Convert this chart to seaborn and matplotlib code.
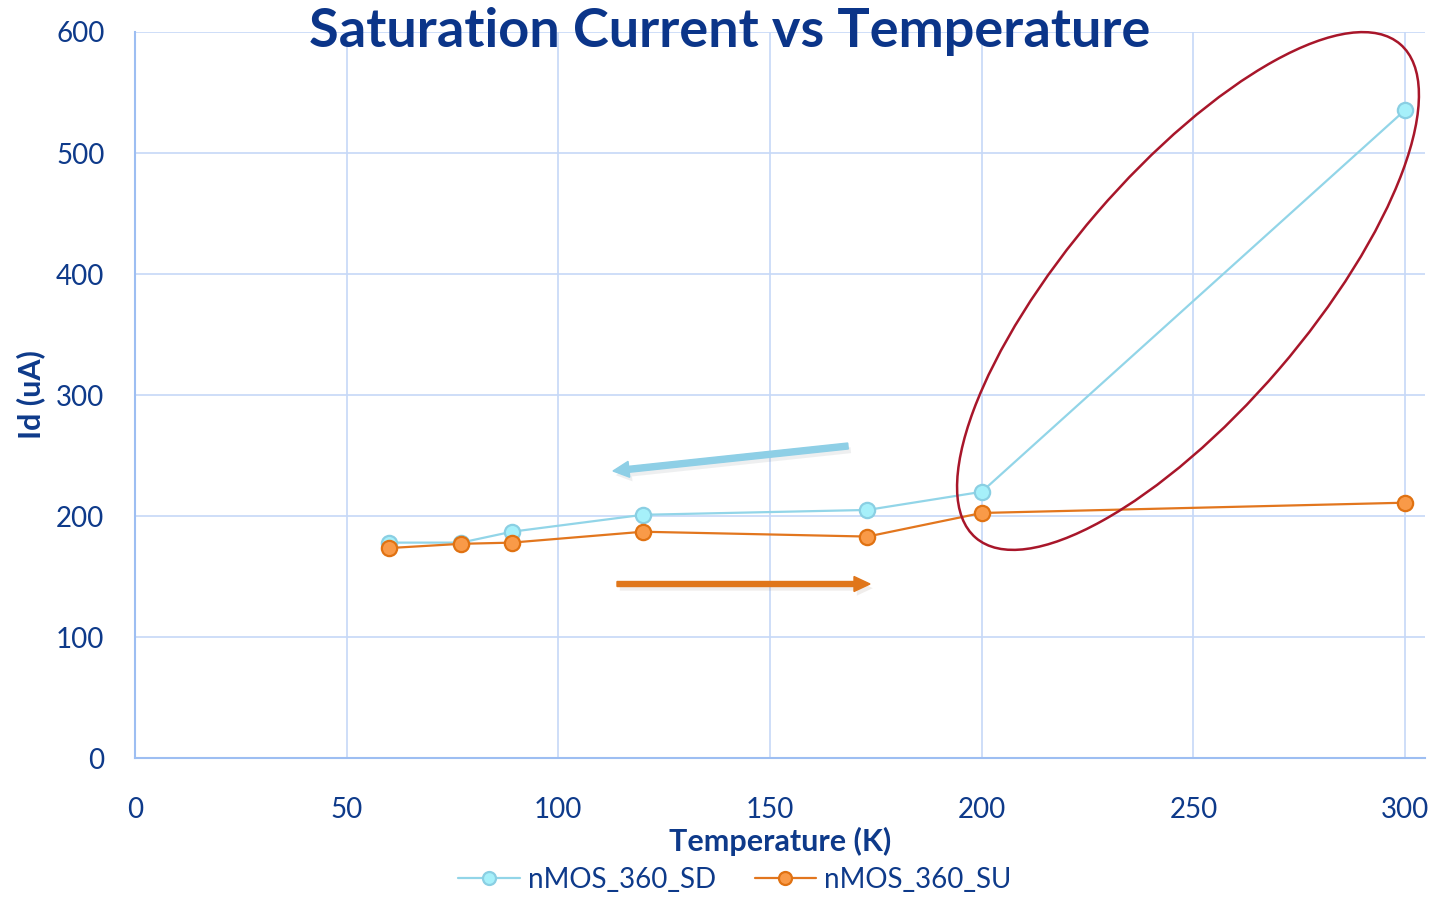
import matplotlib
matplotlib.use("Agg")
import matplotlib.pyplot as plt
import seaborn as sns
import pandas as pd
from matplotlib.patches import Ellipse, FancyArrow
from matplotlib.transforms import IdentityTransform
import matplotlib.patheffects as pe

temperature = [60, 77, 89, 120, 173, 200, 300]
id_sd = [178, 178, 187, 201, 205, 220, 535.5]
id_su = [173.5, 177, 178, 187, 183, 202.5, 211]
series_names = ["nMOS_360_SD", "nMOS_360_SU"]
x_ticks = [0, 50, 100, 150, 200, 250, 300]
y_ticks = [0, 100, 200, 300, 400, 500, 600]

sns.set_style("white")
plt.rcParams['font.family'] = ['Lato', 'DejaVu Sans']

TXT = "#0E3A8A"
line_colors = {"nMOS_360_SD": "#92D5E8", "nMOS_360_SU": "#E2761E"}
face_colors = {"nMOS_360_SD": "#A6F0FA", "nMOS_360_SU": "#F99A48"}
edge_colors = {"nMOS_360_SD": "#8ACFE3", "nMOS_360_SU": "#E07212"}

df = pd.DataFrame({
    "Temperature": temperature * 2,
    "Id": id_sd + id_su,
    "Series": [series_names[0]] * len(temperature) + [series_names[1]] * len(temperature),
})

W, H = 1435, 897
fig = plt.figure(figsize=(W / 100, H / 100), dpi=100)
ax = fig.add_axes([135 / W, 1 - 758 / H, (1425 - 135) / W, (758 - 32) / H])

for name in series_names:
    sub = df[df["Series"] == name]
    sns.lineplot(data=sub, x="Temperature", y="Id", ax=ax, color=line_colors[name],
                 linewidth=1.6, marker="o", markersize=11,
                 markerfacecolor=face_colors[name], markeredgecolor=edge_colors[name],
                 markeredgewidth=1.6, label=name, sort=False, zorder=3)

ax.set_xlim(0, 304.7)
ax.set_ylim(0, 600)
ax.set_xticks(x_ticks)
ax.set_yticks(y_ticks)
ax.grid(True, color="#C6D8F7", linewidth=1.2)
ax.set_axisbelow(True)
for s in ["top", "right"]:
    ax.spines[s].set_visible(False)
for s in ["left", "bottom"]:
    ax.spines[s].set_color("#9DBEF2")
    ax.spines[s].set_linewidth(1.5)
ax.tick_params(axis="both", length=0, labelsize=20, labelcolor=TXT)
ax.tick_params(axis="x", pad=28)
ax.tick_params(axis="y", pad=22)
ax.set_xlabel("Temperature (K)", fontsize=22, fontweight="bold", color=TXT, labelpad=3)
ax.set_ylabel("Id (uA)", fontsize=22, fontweight="bold", color=TXT, labelpad=8)

leg = ax.legend(loc="center", bbox_to_anchor=(735 / W, 1 - 880 / H), bbox_transform=fig.transFigure,
                ncol=2, frameon=False, fontsize=20, handlelength=2.2, columnspacing=1.4,
                handletextpad=0.3, borderpad=0, markerscale=0.85)
for t in leg.get_texts():
    t.set_color(TXT)

fig.text(730 / W, 1 - 32 / H, "Saturation Current vs Temperature", ha="center", va="center",
         fontsize=39, fontweight="bold", color="#0B3589")

# Annotations in figure pixel coordinates
ell = Ellipse((1188, H - 291), width=651, height=240, angle=49.3, fill=False,
              edgecolor="#A8162A", linewidth=1.8, transform=IdentityTransform(), zorder=5)
fig.add_artist(ell)

arr1 = FancyArrow(848, H - 446, 613 - 848, -(471 - 446), width=6, head_width=16, head_length=16,
                  length_includes_head=True, color="#8ECFE6", transform=IdentityTransform(), zorder=4)
arr2 = FancyArrow(617, H - 584, 870 - 617, 0, width=5, head_width=15, head_length=16,
                  length_includes_head=True, color="#E0761A", transform=IdentityTransform(), zorder=4)
for a in (arr1, arr2):
    a.set_path_effects([pe.SimplePatchShadow(offset=(2, -3), alpha=0.08), pe.Normal()])
    fig.add_artist(a)

fig.savefig("out.png", dpi=100)
